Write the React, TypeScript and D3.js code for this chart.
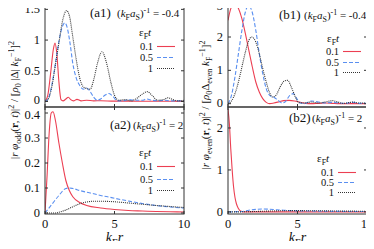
import React, { useEffect, useRef } from "react";
import * as d3 from "d3";

// values, [k_F r, value]
const a1Red = [[0,0],[0.2,0.1],[0.4,0.45],[0.6,0.85],[0.72,0.95],[0.85,0.78],[1.0,0.32],[1.15,0.03],[1.3,0.01],[1.5,0.04],[1.68,0.07],[1.85,0.03],[2.05,0.01],[2.3,0.035],[2.6,0.01],[3.0,0.02],[3.5,0.01],[4.0,0.012],[5.0,0.005],[6,0.005],[7,0.003],[8,0.003],[10,0.002]];
const a1Blue = [[0,0],[0.25,0.05],[0.5,0.28],[0.75,0.62],[1.0,0.98],[1.25,1.22],[1.42,1.28],[1.6,1.2],[1.8,0.95],[2.0,0.62],[2.25,0.38],[2.5,0.26],[2.75,0.2],[3.0,0.22],[3.25,0.16],[3.5,0.07],[3.75,0.02],[4.0,0.04],[4.3,0.1],[4.6,0.13],[4.9,0.08],[5.2,0.01],[5.6,0.01],[6.0,0.03],[6.5,0.02],[7.0,0.02],[7.3,0.04],[7.7,0.02],[8.2,0.01],[8.6,0.02],[9.0,0.01],[9.5,0.01],[10,0.01]];
const a1Black = [[0,0],[0.25,0.05],[0.5,0.25],[0.75,0.6],[1.0,0.95],[1.25,1.3],[1.55,1.48],[1.75,1.4],[2.0,1.05],[2.25,0.68],[2.5,0.38],[2.75,0.24],[3.0,0.21],[3.25,0.2],[3.5,0.35],[3.75,0.6],[4.1,0.81],[4.4,0.65],[4.75,0.3],[5.0,0.1],[5.3,0.02],[5.75,0.03],[6.2,0.01],[6.6,0.05],[7.0,0.12],[7.35,0.16],[7.7,0.1],[8.1,0.02],[8.5,0.03],[8.85,0.06],[9.2,0.03],[9.6,0.01],[10,0.02]];

const a2Red = [[0,0],[0.15,0.15],[0.3,0.32],[0.45,0.4],[0.58,0.405],[0.75,0.37],[1.0,0.28],[1.25,0.2],[1.5,0.13],[1.75,0.09],[2.0,0.065],[2.5,0.042],[3.0,0.03],[4.0,0.02],[5.0,0.014],[6.0,0.01],[7.0,0.008],[8.0,0.006],[9.0,0.005],[10,0.004]];
const a2Blue = [[0,0],[0.5,0.035],[1.0,0.07],[1.5,0.098],[1.75,0.1],[2.0,0.098],[2.5,0.09],[3.0,0.083],[3.5,0.077],[4.0,0.07],[4.5,0.065],[5.0,0.059],[6.0,0.048],[7.0,0.038],[8.0,0.03],[9.0,0.024],[10,0.02]];
const a2Black = [[0,0],[0.8,0],[1.0,0.003],[1.5,0.012],[2.0,0.025],[2.5,0.037],[3.0,0.044],[3.5,0.047],[4.0,0.047],[5.0,0.045],[6.0,0.04],[7.0,0.035],[8.0,0.03],[9.0,0.026],[10,0.022]];

const b1Red = [[0,2.5],[0.2,2.85],[0.44,3.0],[0.7,2.9],[1.0,2.55],[1.25,2.1],[1.5,1.6],[1.75,1.1],[2.0,0.65],[2.25,0.35],[2.5,0.15],[2.75,0.04],[3.0,0],[3.3,0.02],[3.7,0.06],[4.0,0.09],[4.4,0.1],[4.8,0.08],[5.2,0.04],[5.6,0.01],[6.0,0],[6.5,0.01],[7.0,0.02],[7.5,0.01],[8,0],[10,0]];
const b1Blue = [[0,0],[0.25,0.25],[0.5,0.8],[0.75,1.5],[1.0,2.2],[1.25,2.75],[1.46,2.94],[1.7,2.8],[2.0,2.2],[2.25,1.5],[2.5,0.9],[2.75,0.45],[3.0,0.25],[3.35,0.18],[3.6,0.1],[3.9,0.02],[4.1,0.05],[4.45,0.25],[4.7,0.3],[4.95,0.15],[5.2,0.02],[5.5,0],[6.0,0.08],[6.5,0.05],[7.0,0.02],[7.5,0.04],[8.0,0.02],[8.5,0.01],[9.0,0.04],[9.5,0.01],[10,0.01]];
const b1Black = [[0,0],[0.25,0.08],[0.5,0.3],[0.75,0.65],[1.0,1.1],[1.25,1.55],[1.5,1.9],[1.7,2.0],[2.0,1.85],[2.25,1.5],[2.5,1.05],[2.75,0.65],[3.0,0.32],[3.2,0.2],[3.45,0.25],[3.75,0.5],[4.05,0.68],[4.3,0.7],[4.55,0.5],[4.85,0.2],[5.1,0.03],[5.5,0.02],[6.0,0.05],[6.5,0.02],[7.0,0.05],[7.5,0.09],[7.9,0.05],[8.3,0.01],[8.7,0.03],[9.0,0.05],[9.4,0.02],[10,0.02]];

const b2Red = [[0,2.45],[0.1,2.1],[0.2,1.5],[0.3,1.0],[0.4,0.6],[0.5,0.35],[0.6,0.2],[0.75,0.08],[0.9,0.02],[1.1,0],[2,0],[10,0]];
const b2Blue = [[0,0],[1.0,0.01],[1.5,0.04],[2.0,0.06],[2.5,0.07],[3.0,0.065],[3.5,0.05],[4,0.04],[5,0.025],[6,0.02],[7,0.015],[8,0.012],[9,0.01],[10,0.008]];
const b2Black = [[0,0],[1,0.002],[2,0.01],[3,0.02],[4,0.028],[5,0.03],[6,0.028],[7,0.025],[8,0.02],[9,0.018],[10,0.015]];

const xTicks = [0, 5, 10];
const a1Ticks = [0, 0.5, 1, 1.5];
const a2Ticks = [0, 0.1, 0.2, 0.3, 0.4];
const b1Ticks = [0, 1, 2, 3];
const b2Ticks = [0, 1, 2];
const legendLabels = ["0.1", "0.5", "1"];

const RED = "#ec3f52";
const BLUE = "#5a8ff0";
const BLACK = "#333";
const FONT = "'Liberation Serif', 'DejaVu Serif', serif";

type Seg = { t: string; i?: boolean; b?: boolean; s?: "sub" | "sup" };

function rich(text: any, segs: Seg[], fs: number) {
  let cur = 0;
  segs.forEach((sg) => {
    const target = sg.s === "sub" ? fs * 0.3 : sg.s === "sup" ? -fs * 0.4 : 0;
    text
      .append("tspan")
      .attr("dy", target - cur)
      .attr("font-size", sg.s ? fs * 0.72 : fs)
      .attr("font-style", sg.i ? "italic" : "normal")
      .attr("font-weight", sg.b ? "bold" : "normal")
      .text(sg.t);
    cur = target;
  });
}

const kfas = (v: string): Seg[] => [
  { t: "(" },
  { t: "k", i: true },
  { t: "F", s: "sub" },
  { t: "a", i: true },
  { t: "S", s: "sub" },
  { t: ")" },
  { t: "-1", s: "sup" },
  { t: " = " + v },
];

export default function App() {
  const ref = useRef<SVGSVGElement>(null);

  useEffect(() => {
    const svg = d3.select(ref.current);
    svg.selectAll("*").remove();

    // lab: shift of tick label baselines (top/bottom ticks sit near the panel joins)
    const panels = [
      { id: "a1", x0: 45, x1: 184, y0: 2, y1: 107, dom: [-0.09, 1.62], ticks: a1Ticks, data: [a1Red, a1Blue, a1Black],
        lab: (t: number) => (t === 0 ? 2.5 : 4),
        tag: "(a1)", tagX: 90, restX: 117, ty: 17, val: "-0.4", lx: 153, ltx: 139, lty: 36, ly: [50, 61, 72] },
      { id: "a2", x0: 45, x1: 184, y0: 107, y1: 214, dom: [-0.004, 0.424], ticks: a2Ticks, data: [a2Red, a2Blue, a2Black],
        lab: (t: number) => (t === 0.4 ? 5.5 : 4),
        tag: "(a2)", tagX: 110, restX: 133, ty: 129, val: "2", lx: 153, ltx: 139, lty: 156, ly: [170, 183, 194] },
      { id: "b1", x0: 228, x1: 367, y0: 2, y1: 107, dom: [-0.1, 3.05], ticks: b1Ticks, data: [b1Red, b1Blue, b1Black],
        lab: (t: number) => (t === 3 ? 6.5 : t === 0 ? 3 : 4),
        tag: "(b1)", tagX: 279, restX: 304, ty: 19, val: "-0.4", lx: 339, ltx: 327, lty: 42, ly: [55, 66, 76] },
      { id: "b2", x0: 228, x1: 367, y0: 107, y1: 214, dom: [-0.05, 2.5], ticks: b2Ticks, data: [b2Red, b2Blue, b2Black],
        lab: () => 4,
        tag: "(b2)", tagX: 289, restX: 312, ty: 122, val: "2", lx: 334, ltx: 317, lty: 162, ly: [176, 186, 196] },
    ];

    const styles = [
      { c: RED, dash: null, w: 1.1 },
      { c: BLUE, dash: "4,2", w: 1.1 },
      { c: BLACK, dash: "1,1", w: 1.1 },
    ];

    panels.forEach((p) => {
      const x = d3.scaleLinear().domain([0, 10]).range([p.x0, p.x1]);
      const y = d3.scaleLinear().domain(p.dom).range([p.y1, p.y0]);
      const g = svg.append("g");

      g.append("clipPath")
        .attr("id", "clip-" + p.id)
        .append("rect")
        .attr("x", p.x0)
        .attr("y", p.y0)
        .attr("width", p.x1 - p.x0)
        .attr("height", p.y1 - p.y0);

      const line = d3
        .line<number[]>()
        .x((d) => x(d[0]))
        .y((d) => y(d[1]))
        .curve(d3.curveMonotoneX);

      p.data.forEach((series, i) => {
        g.append("path")
          .datum(series)
          .attr("clip-path", `url(#clip-${p.id})`)
          .attr("d", line)
          .attr("fill", "none")
          .attr("stroke", styles[i].c)
          .attr("stroke-width", styles[i].w)
          .attr("stroke-dasharray", styles[i].dash);
      });

      // frame
      g.append("rect")
        .attr("x", p.x0)
        .attr("y", p.y0)
        .attr("width", p.x1 - p.x0)
        .attr("height", p.y1 - p.y0)
        .attr("fill", "none")
        .attr("stroke", BLACK)
        .attr("stroke-width", 1);

      // y ticks (inward, both sides)
      p.ticks.forEach((t) => {
        g.append("line").attr("x1", p.x0).attr("x2", p.x0 + 3).attr("y1", y(t)).attr("y2", y(t)).attr("stroke", BLACK);
        g.append("line").attr("x1", p.x1).attr("x2", p.x1 - 3).attr("y1", y(t)).attr("y2", y(t)).attr("stroke", BLACK);
        g.append("text")
          .attr("x", p.x0 - 5)
          .attr("y", y(t) + p.lab(t))
          .attr("text-anchor", "end")
          .attr("font-family", FONT)
          .attr("font-size", 12.5)
          .attr("fill", "#111")
          .text(d3.format("~g")(t));
      });

      // x ticks
      xTicks.forEach((t) => {
        g.append("line").attr("x1", x(t)).attr("x2", x(t)).attr("y1", p.y1).attr("y2", p.y1 - 3).attr("stroke", BLACK);
        g.append("line").attr("x1", x(t)).attr("x2", x(t)).attr("y1", p.y0).attr("y2", p.y0 + 3).attr("stroke", BLACK);
        if (p.id.endsWith("2")) {
          g.append("text")
            .attr("x", x(t))
            .attr("y", 228)
            .attr("text-anchor", "middle")
            .attr("font-family", FONT)
            .attr("font-size", 12.5)
            .attr("fill", "#111")
            .text(t);
        }
      });

      // panel title
      g.append("text")
        .attr("x", p.tagX)
        .attr("y", p.ty)
        .attr("font-family", FONT)
        .attr("font-size", 13)
        .attr("fill", "#111")
        .text(p.tag);
      const tt = g.append("text")
        .attr("x", p.restX)
        .attr("y", p.ty)
        .attr("font-family", FONT)
        .attr("fill", "#111");
      rich(tt, kfas(p.val), 11);

      // legend
      const lt = g.append("text")
        .attr("x", p.ltx)
        .attr("y", p.lty)
        .attr("font-family", FONT)
        .attr("fill", "#111");
      rich(lt, [{ t: "ε" }, { t: "F", s: "sub" }, { t: "t", i: true }], 11);

      legendLabels.forEach((lab, i) => {
        g.append("text")
          .attr("x", p.lx)
          .attr("y", p.ly[i])
          .attr("text-anchor", "end")
          .attr("font-family", FONT)
          .attr("font-size", 10.5)
          .attr("fill", "#111")
          .text(lab);
        g.append("line")
          .attr("x1", p.lx + 4)
          .attr("x2", p.lx + 22)
          .attr("y1", p.ly[i] - 3.5)
          .attr("y2", p.ly[i] - 3.5)
          .attr("stroke", styles[i].c)
          .attr("stroke-width", styles[i].w)
          .attr("stroke-dasharray", styles[i].dash);
      });
    });

    // x axis labels
    [114.5, 297.5].forEach((cx) => {
      const t = svg.append("text")
        .attr("x", cx)
        .attr("y", 242)
        .attr("text-anchor", "middle")
        .attr("font-family", FONT)
        .attr("fill", "#111");
      rich(t, [{ t: "k", i: true }, { t: "F", s: "sub" }, { t: "r", i: true }], 14);
    });

    // y axis labels
    const yl = svg.append("text")
      .attr("transform", "translate(18,100) rotate(-90)")
      .attr("text-anchor", "middle")
      .attr("font-family", FONT)
      .attr("fill", "#111");
    rich(yl, [
      { t: "|" }, { t: "r", i: true }, { t: " " }, { t: "φ", i: true }, { t: "odd", s: "sub" },
      { t: "(" }, { t: "r", b: true }, { t: ", " }, { t: "t", i: true }, { t: ")|" }, { t: "2", s: "sup" },
      { t: " / [" }, { t: "ρ", i: true }, { t: "0", s: "sub" }, { t: " |Δ| " }, { t: "k", i: true },
      { t: "F", s: "sub" }, { t: "−1", s: "sup" }, { t: "]" }, { t: "2", s: "sup" },
    ], 11);

    const yr = svg.append("text")
      .attr("transform", "translate(209,105) rotate(-90)")
      .attr("text-anchor", "middle")
      .attr("font-family", FONT)
      .attr("fill", "#111");
    rich(yr, [
      { t: "|" }, { t: "r", i: true }, { t: " " }, { t: "φ", i: true }, { t: "even", s: "sub" },
      { t: "(" }, { t: "r", b: true }, { t: ", " }, { t: "t", i: true }, { t: ")|" }, { t: "2", s: "sup" },
      { t: " / [" }, { t: "ρ", i: true }, { t: "0", s: "sub" }, { t: "Δ" }, { t: "even", s: "sub" }, { t: " " },
      { t: "k", i: true }, { t: "F", s: "sub" }, { t: "−1", s: "sup" }, { t: "]" }, { t: "2", s: "sup" },
    ], 11);
  }, []);

  return (
    <div style={{ margin: -8 }}>
      <svg ref={ref} width={374} height={249} style={{ display: "block", background: "#fff" }}></svg>
    </div>
  );
}
